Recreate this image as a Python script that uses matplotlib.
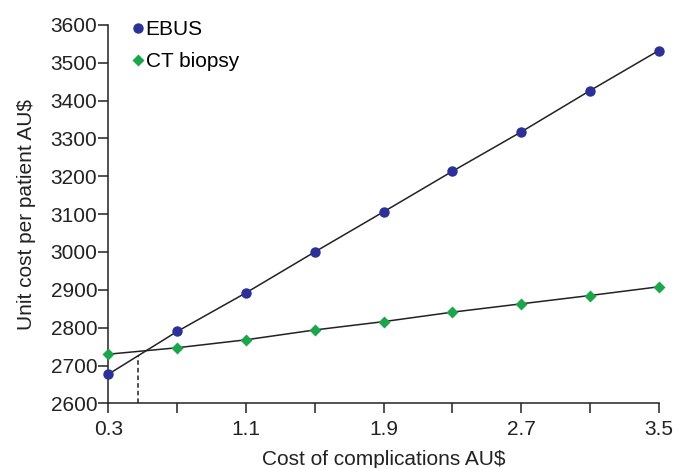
import matplotlib.pyplot as plt
import numpy as np

plt.rcParams['font.family'] = ['Liberation Sans', 'DejaVu Sans']

# cost of complications (AU$) and unit cost per patient (AU$)
complication_cost = [0.3, 0.7, 1.1, 1.5, 1.9, 2.3, 2.7, 3.1, 3.5]
ebus = [2677, 2790, 2892, 3000, 3106, 3213, 3317, 3426, 3532]
ct_biopsy = [2730, 2747, 2768, 2794, 2816, 2841, 2863, 2885, 2908]
break_even = 0.475
y_ticks = [2600, 2700, 2800, 2900, 3000, 3100, 3200, 3300, 3400, 3500, 3600]

fig = plt.figure(figsize=(6.77, 4.68), dpi=100)
ax = fig.add_axes([0.16, 0.138, 0.813, 0.809])

ax.plot(complication_cost, ebus, color='#222222', lw=1.1, zorder=2)
ax.plot(complication_cost, ct_biopsy, color='#222222', lw=1.1, zorder=2)
ax.plot(complication_cost, ebus, 'o', color='#2b3196', ms=7.5, mec='none',
        label='EBUS', clip_on=False, zorder=3)
ax.plot(complication_cost, ct_biopsy, 'D', color='#1ca64b', ms=6.5, mec='none',
        label='CT biopsy', clip_on=False, zorder=3)

# dashed drop line at the break-even point
top = np.interp(break_even, complication_cost, ebus)
ax.plot([break_even, break_even], [2600, top], color='#222222', ls=(0, (3, 2)), lw=1.1)

ax.set_xlim(0.3, 3.5)
ax.set_ylim(2600, 3600)
ax.set_xticks(complication_cost)
ax.set_xticklabels([f'{v:.1f}' if i % 2 == 0 else '' for i, v in enumerate(complication_cost)])
ax.set_yticks(y_ticks)
ax.tick_params(axis='both', direction='out', length=7, width=1.1, labelsize=15,
               colors='#222222')
ax.tick_params(axis='y', pad=1)
ax.tick_params(axis='x', pad=5)
for s in ['top', 'right']:
    ax.spines[s].set_visible(False)
for s in ['left', 'bottom']:
    ax.spines[s].set_linewidth(1.1)
    ax.spines[s].set_color('#222222')

ax.set_xlabel('Cost of complications AU$', fontsize=15, color='#222222', labelpad=8)
ax.set_ylabel('Unit cost per patient AU$', fontsize=15, color='#222222', labelpad=10)

ax.legend(loc='upper left', bbox_to_anchor=(0.03, 1.035), frameon=False, fontsize=15,
          handlelength=0.5, handletextpad=0.1, labelspacing=0.64, borderaxespad=0)

fig.savefig('out.png', dpi=100)
